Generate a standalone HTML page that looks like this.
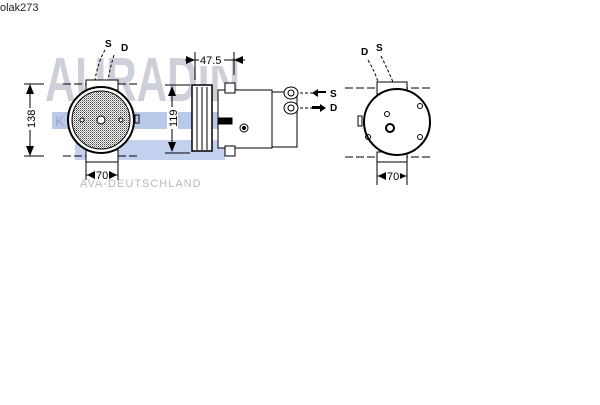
<!DOCTYPE html>
<html><head><style>body{margin:0;background:#fff;width:600px;height:400px;overflow:hidden}</style></head>
<body>
<svg width="600" height="400" viewBox="0 0 600 400" xmlns="http://www.w3.org/2000/svg" font-family="Liberation Sans, sans-serif">
<defs>
<pattern id="hatch" width="2" height="2" patternUnits="userSpaceOnUse"><rect width="2" height="2" fill="#fff"/><rect width="1" height="1" fill="#444"/><rect x="1" y="1" width="1" height="1" fill="#999"/></pattern>
</defs>
<text x="0" y="11" font-size="11" fill="#222">olak273</text>
<!-- watermark -->
<text x="45" y="101" font-size="62" font-weight="bold" fill="#cdd0d9" textLength="195" lengthAdjust="spacingAndGlyphs">AURADIN</text>
<rect x="52" y="112" width="190" height="17" fill="#b9c9ea"/>
<text x="55" y="126" font-size="14" fill="#9aa8c8">K</text>
<rect x="75" y="140" width="150" height="20" fill="#c3d0ee"/>
<text x="80" y="187" font-size="11" fill="#b5b9c5" letter-spacing="1">AVA-DEUTSCHLAND</text>
<g stroke="#000" fill="none" stroke-width="1">
<!-- left view -->
<line x1="63" y1="84" x2="140" y2="84" stroke-dasharray="8 3"/>
<line x1="63" y1="156" x2="140" y2="156" stroke-dasharray="8 3"/>
<rect x="86" y="80" width="32" height="10" fill="#fff"/>
<rect x="86" y="150" width="32" height="12" fill="#fff"/>
<circle cx="101" cy="120" r="33" fill="#fff" stroke-width="2"/>
<circle cx="101" cy="120" r="29" fill="url(#hatch)"/>
<circle cx="101" cy="120" r="4" fill="#fff"/>
<circle cx="82" cy="120" r="2" fill="#fff"/>
<circle cx="121" cy="120" r="2" fill="#fff"/>
<rect x="135" y="115" width="4" height="8"/>
<path d="M105 50 Q98 62 95 80 M114 55 Q110 68 108 80" stroke-dasharray="3 2"/>
<line x1="30" y1="85" x2="30" y2="155"/>
<line x1="24" y1="84" x2="44" y2="84"/><line x1="24" y1="156" x2="44" y2="156"/>
<line x1="86" y1="162" x2="86" y2="180"/><line x1="118" y1="162" x2="118" y2="180"/>
<line x1="86" y1="175" x2="118" y2="175"/>
<!-- middle -->
<line x1="172" y1="88" x2="172" y2="150"/>
<line x1="165" y1="85" x2="190" y2="85"/><line x1="165" y1="153" x2="190" y2="153"/>
<line x1="195" y1="52" x2="195" y2="80"/><line x1="234" y1="52" x2="234" y2="75"/>
<line x1="185" y1="60" x2="245" y2="60"/>
<rect x="192" y="85" width="20" height="66" fill="#fff" stroke-width="1.5"/>
<line x1="197" y1="87" x2="197" y2="150"/><line x1="202" y1="87" x2="202" y2="150"/><line x1="207" y1="87" x2="207" y2="150"/>
<rect x="218" y="90" width="54" height="58" fill="#fff"/>
<rect x="225" y="83" width="10" height="10" fill="#fff"/><rect x="225" y="146" width="10" height="10" fill="#fff"/>
<rect x="272" y="92" width="25" height="55" fill="#fff"/>
<ellipse cx="291" cy="93" rx="7" ry="6" fill="#fff"/><ellipse cx="291" cy="108" rx="7" ry="6" fill="#fff"/>
<circle cx="291" cy="93" r="3"/><circle cx="291" cy="108" r="3"/>
<circle cx="244" cy="128" r="4"/><circle cx="244" cy="128" r="1.5" fill="#000"/>
<rect x="218" y="118" width="14" height="6" fill="#000"/>
<line x1="300" y1="93" x2="318" y2="93" stroke-dasharray="3 2"/>
<line x1="300" y1="108" x2="312" y2="108" stroke-dasharray="3 2"/>
<!-- right -->
<line x1="345" y1="88" x2="432" y2="88" stroke-dasharray="8 3"/>
<line x1="345" y1="157" x2="432" y2="157" stroke-dasharray="8 3"/>
<rect x="377" y="82" width="30" height="12" fill="#fff"/>
<rect x="377" y="152" width="30" height="10" fill="#fff"/>
<circle cx="397" cy="122" r="33" fill="#fff" stroke-width="2"/>
<circle cx="390" cy="128" r="4" stroke-width="2"/>
<circle cx="387" cy="114" r="2.5"/><circle cx="420" cy="106" r="2.5"/><circle cx="368" cy="137" r="2.5"/><circle cx="420" cy="137" r="2.5"/>
<rect x="358" y="116" width="4" height="10"/>
<path d="M368 60 Q375 72 378 82 M381 56 Q388 70 393 82" stroke-dasharray="3 2"/>
<line x1="377" y1="162" x2="377" y2="185"/><line x1="407" y1="162" x2="407" y2="185"/>
<line x1="377" y1="176" x2="407" y2="176"/>
</g>
<g fill="#000">
<path d="M30 84 l-4 10 h8z M30 156 l-4 -10 h8z"/>
<path d="M172 86 l-4 10 h8z M172 152 l-4 -10 h8z"/>
<path d="M195 60 l-9 -4 v8z M234 60 l9 -4 v8z"/>
<path d="M87 175 l8 -4 v8z M117 175 l-8 -4 v8z"/>
<path d="M378 176 l8 -4 v8z M406 176 l-8 -4 v8z"/>
<path d="M312 93 l6 -4 v8z M318 93 h8 v-2 h-8z"/>
<path d="M312 106 h8 v3 h-8z M326 108 l-6 -4 v8z"/>
<text x="105" y="47" font-size="10" font-weight="bold">S</text>
<text x="121" y="51" font-size="10" font-weight="bold">D</text>
<rect x="199" y="54" width="25" height="12" fill="#fff"/>
<text x="200" y="64" font-size="11">47.5</text>
<text x="330" y="97" font-size="10" font-weight="bold">S</text>
<text x="330" y="111" font-size="10" font-weight="bold">D</text>
<text x="361" y="55" font-size="10" font-weight="bold">D</text>
<text x="376" y="51" font-size="10" font-weight="bold">S</text>
<rect x="95" y="170" width="14" height="11" fill="#fff"/>
<text x="96" y="179" font-size="11">70</text>
<rect x="386" y="171" width="14" height="11" fill="#fff"/>
<text x="387" y="180" font-size="11">70</text>
<rect x="25" y="108" width="11" height="22" fill="#fff"/>
<text transform="translate(35,128) rotate(-90)" font-size="11">138</text>
<rect x="167" y="107" width="11" height="22" fill="#fff"/>
<text transform="translate(177,127) rotate(-90)" font-size="11">119</text>
</g>
</svg>
</body></html>
